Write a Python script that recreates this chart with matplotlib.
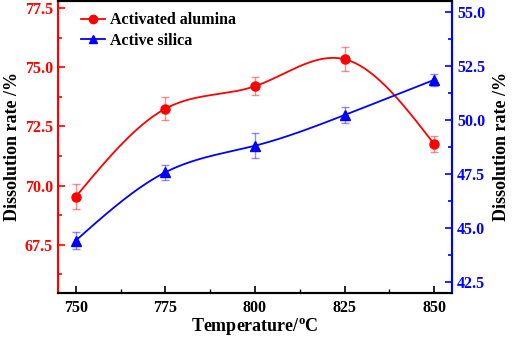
import numpy as np
import matplotlib
matplotlib.use("Agg")
import matplotlib.pyplot as plt

# --- DATA ---
temps = [750, 775, 800, 825, 850]
alumina = [69.53, 73.25, 74.20, 75.34, 71.75]
alumina_err = [0.52, 0.48, 0.37, 0.51, 0.33]
silica = [44.41, 47.57, 48.80, 50.22, 51.85]
silica_err = [0.38, 0.35, 0.58, 0.38, 0.27]

plt.rcParams["font.family"] = ["Liberation Serif", "DejaVu Serif"]
plt.rcParams["font.weight"] = "bold"


def smooth(x, y, n=200):
    # natural cubic spline through the points (for drawing only)
    x = np.asarray(x, float)
    y = np.asarray(y, float)
    m = len(x)
    h = np.diff(x)
    A = np.zeros((m, m))
    b = np.zeros(m)
    A[0, 0] = A[-1, -1] = 1
    for i in range(1, m - 1):
        A[i, i - 1] = h[i - 1]
        A[i, i] = 2 * (h[i - 1] + h[i])
        A[i, i + 1] = h[i]
        b[i] = 6 * ((y[i + 1] - y[i]) / h[i] - (y[i] - y[i - 1]) / h[i - 1])
    M = np.linalg.solve(A, b)
    xs = np.linspace(x[0], x[-1], n)
    idx = np.clip(np.searchsorted(x, xs) - 1, 0, m - 2)
    x0, x1 = x[idx], x[idx + 1]
    hh = x1 - x0
    t1 = x1 - xs
    t0 = xs - x0
    ys = (M[idx] * t1 ** 3 + M[idx + 1] * t0 ** 3) / (6 * hh) \
        + (y[idx] / hh - M[idx] * hh / 6) * t1 \
        + (y[idx + 1] / hh - M[idx + 1] * hh / 6) * t0
    return xs, ys


red = "#ff0000"
blue = "#0000ff"

fig = plt.figure(figsize=(5.12, 3.39), dpi=100)
ax = fig.add_axes([0.113, 0.137, 0.77, 0.86])
ax2 = ax.twinx()

# red series
xs, ys = smooth(temps, alumina)
ax.plot(xs, ys, color=red, lw=1.3)
ax.errorbar(temps, alumina, yerr=alumina_err, fmt="none", ecolor=red,
            alpha=0.45, capsize=3, elinewidth=1, capthick=1)
ax.plot(temps, alumina, "o", color=red, ms=6.5)
ax.plot([], [], "-o", color=red, ms=6, lw=1.3, label="Activated alumina")

# blue series
xs, ys = smooth(temps, silica)
ax2.plot(xs, ys, color=blue, lw=1.3)
ax2.errorbar(temps, silica, yerr=silica_err, fmt="none", ecolor=blue,
             alpha=0.45, capsize=3, elinewidth=1, capthick=1)
ax2.plot(temps, silica, "^", color=blue, ms=6.5)
ax.plot([], [], "-^", color=blue, ms=6, lw=1.3, label="Active silica")

ax.set_xlim(745, 855)
ax.set_ylim(65.48, 77.8)
ax2.set_ylim(42.0, 55.5)
ax.set_xticks(temps)
ax.set_xticks([762.5, 787.5, 812.5, 837.5], minor=True)
ax.set_yticks([67.5, 70.0, 72.5, 75.0, 77.5])
ax.set_yticks([66.25, 68.75, 71.25, 73.75, 76.25], minor=True)
ax2.set_yticks([42.5, 45.0, 47.5, 50.0, 52.5, 55.0])
ax2.set_yticks([43.75, 46.25, 48.75, 51.25, 53.75], minor=True)
ax.yaxis.set_major_formatter(matplotlib.ticker.FormatStrFormatter("%.1f"))
ax2.yaxis.set_major_formatter(matplotlib.ticker.FormatStrFormatter("%.1f"))

ax.tick_params(axis="x", direction="in", length=5, width=1.2, labelsize=11.5, pad=5)
ax.tick_params(axis="x", which="minor", direction="in", length=3, width=1)
ax.tick_params(axis="y", which="both", direction="in", colors=red, labelsize=11.5, width=1.2)
ax.tick_params(axis="y", which="major", length=5)
ax.tick_params(axis="y", which="minor", length=3)
ax2.tick_params(axis="y", which="both", direction="in", colors=blue, labelsize=11.5, width=1.2)
ax2.tick_params(axis="y", which="major", length=5)
ax2.tick_params(axis="y", which="minor", length=3)

for a in (ax, ax2):
    for s in a.spines.values():
        s.set_linewidth(1.5)
ax2.spines["left"].set_color(red)
ax2.spines["right"].set_color(blue)
ax.spines["left"].set_color(red)
ax.spines["right"].set_color(blue)

ax.set_xlabel("Temperature/$^{\\mathregular{o}}$C", fontsize=13, fontweight="bold", labelpad=1)
ax.set_ylabel("Dissolution rate /%", fontsize=13, fontweight="bold", labelpad=3)
ax2.set_ylabel("Dissolution rate /%", fontsize=13, fontweight="bold", labelpad=6)

ax.legend(loc="upper left", bbox_to_anchor=(0.03, 1.0), frameon=False,
          fontsize=11.5, handlelength=1.5, handletextpad=0.3,
          borderaxespad=0.3, labelspacing=0.3)

plt.savefig("out.png", dpi=100)
